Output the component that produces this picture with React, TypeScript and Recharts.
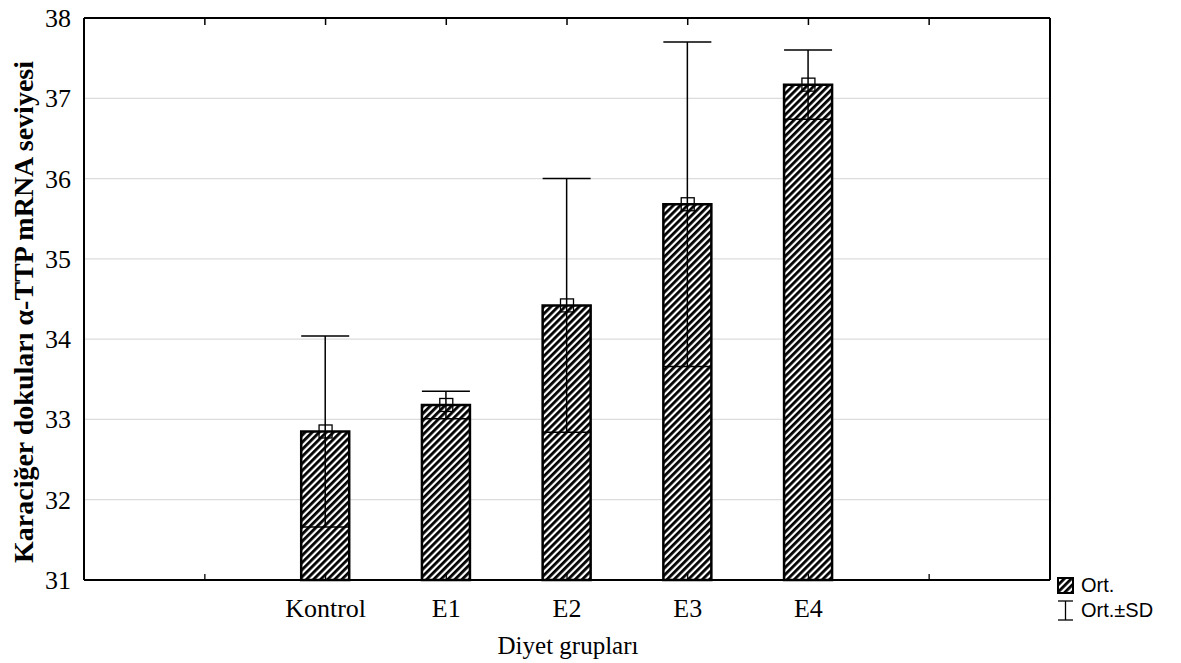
import {
  ComposedChart,
  Bar,
  Line,
  XAxis,
  YAxis,
  CartesianGrid,
  ErrorBar,
} from "recharts";

// group names, means and SDs
const groups = ["Kontrol", "E1", "E2", "E3", "E4"];
const means = [32.85, 33.18, 34.42, 35.68, 37.17];
const sds = [1.19, 0.17, 1.58, 2.02, 0.43];
const yTicks = [31, 32, 33, 34, 35, 36, 37, 38];

// the x axis has one empty slot on each side of the groups
const data = [
  { grp: "_a", mean: null as number | null, sd: null as number | null },
  ...groups.map((g, i) => ({ grp: g, mean: means[i], sd: sds[i] })),
  { grp: "_b", mean: null as number | null, sd: null as number | null },
];

const serif = "'Liberation Serif', 'Times New Roman', serif";
const sans = "'Liberation Sans', Arial, sans-serif";
const PLOT_H = 562;

function BottomTick(props: any) {
  const { x, y, payload } = props;
  const label = payload.value.startsWith("_") ? "" : payload.value;
  return (
    <g>
      {/* inward tick on the bottom and on the top frame */}
      <line x1={x} x2={x} y1={y - 6} y2={y} stroke="#000" strokeWidth={1.3} />
      <path d={`M${x},${y - PLOT_H} V${y - PLOT_H + 7}`} stroke="#000" strokeWidth={1.5} fill="none" />
      <text x={x} y={y + 37} textAnchor="middle" fontFamily={serif} fontSize={26} fill="#000">
        {label}
      </text>
    </g>
  );
}

function LeftTick(props: any) {
  const { x, y, payload } = props;
  return (
    <text x={x} y={y + 9} textAnchor="end" fontFamily={serif} fontSize={26} fill="#000">
      {payload.value}
    </text>
  );
}

function NoTick() {
  return <g />;
}

function SquareDot(props: any) {
  const { cx, cy, value, index } = props;
  if (value == null || cx == null || cy == null) return <g key={index} />;
  return (
    <rect
      key={index}
      x={cx - 6.5}
      y={cy - 6.5}
      width={13}
      height={13}
      fill="none"
      stroke="#000"
      strokeWidth={1.3}
    />
  );
}

function YLabel() {
  return (
    <text
      transform="translate(33,312) rotate(-90)"
      textAnchor="middle"
      fontFamily={serif}
      fontWeight="bold"
      fontSize={28}
      fill="#000"
    >
      Karaciğer dokuları α-TTP mRNA seviyesi
    </text>
  );
}

function XLabel() {
  return (
    <text x={568} y={654} textAnchor="middle" fontFamily={serif} fontSize={25} fill="#000">
      Diyet grupları
    </text>
  );
}

export default function App() {
  return (
    <div style={{ position: "absolute", left: 0, top: 0, width: 1181, height: 663, background: "#fff" }}>
      <ComposedChart
        width={1181}
        height={663}
        data={data}
        margin={{ top: 17, right: 130, left: 0, bottom: 0 }}
      >
        <defs>
          <pattern
            id="hatch"
            patternUnits="userSpaceOnUse"
            width={5}
            height={5}
            patternTransform="rotate(45)"
          >
            <rect x={0} y={0} width={5} height={5} fill="#fff" />
            <rect x={0} y={0} width={2.8} height={5} fill="#000" />
          </pattern>
        </defs>
        <CartesianGrid vertical={false} stroke="#dcdcdc" strokeWidth={1.2} />
        <XAxis
          xAxisId="top"
          dataKey="grp"
          orientation="top"
          height={1}
          padding={{ left: 60.5, right: 60.5 }}
          axisLine={{ stroke: "#000", strokeWidth: 2 }}
          tickLine={false}
          tick={<NoTick />}
          interval={0}
        />
        <XAxis
          dataKey="grp"
          height={83}
          padding={{ left: 60.5, right: 60.5 }}
          axisLine={{ stroke: "#000", strokeWidth: 2 }}
          tickLine={false}
          tickSize={0}
          tickMargin={0}
          tick={<BottomTick />}
          interval={0}
          label={<XLabel />}
        />
        <YAxis
          domain={[31, 38]}
          ticks={yTicks}
          width={84}
          axisLine={{ stroke: "#000", strokeWidth: 2 }}
          tickLine={false}
          tickSize={0}
          tickMargin={13}
          tick={(p: any) => <LeftTick {...p} />}
          label={<YLabel />}
        />
        <YAxis
          yAxisId="right"
          orientation="right"
          domain={[31, 38]}
          ticks={yTicks}
          width={1}
          axisLine={{ stroke: "#000", strokeWidth: 2 }}
          tickLine={false}
          tick={<NoTick />}
        />
        <Bar
          dataKey="mean"
          barSize={48}
          fill="url(#hatch)"
          stroke="#000"
          strokeWidth={2.5}
          isAnimationActive={false}
        >
          <ErrorBar dataKey="sd" width={24} stroke="#000" strokeWidth={1.5} direction="y" />
        </Bar>
        <Line
          xAxisId="top"
          yAxisId="right"
          dataKey="mean"
          stroke="none"
          dot={SquareDot}
          activeDot={false}
          isAnimationActive={false}
        />
      </ComposedChart>
      <div
        style={{
          position: "absolute",
          left: 1057,
          top: 573,
          fontFamily: sans,
          fontSize: 20,
          lineHeight: "24px",
          color: "#000",
        }}
      >
        <div style={{ display: "flex", alignItems: "center", gap: 7, height: 24 }}>
          <svg width={17} height={17}>
            <rect x={1} y={1} width={15} height={15} fill="url(#hatch)" stroke="#000" strokeWidth={2} />
          </svg>
          <span>Ort.</span>
        </div>
        <div style={{ display: "flex", alignItems: "center", gap: 7, height: 26 }}>
          <svg width={17} height={21}>
            <line x1={1} x2={16} y1={1} y2={1} stroke="#000" strokeWidth={1.3} />
            <line x1={8.5} x2={8.5} y1={1} y2={20} stroke="#000" strokeWidth={1.3} />
            <line x1={1} x2={16} y1={20} y2={20} stroke="#000" strokeWidth={1.3} />
          </svg>
          <span>Ort.±SD</span>
        </div>
      </div>
    </div>
  );
}
